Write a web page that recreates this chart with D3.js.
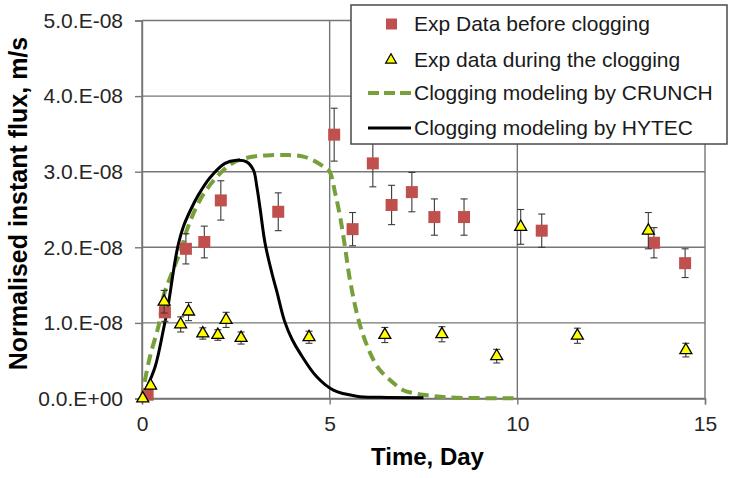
<!DOCTYPE html>
<html>
<head>
<meta charset="utf-8">
<script src="https://cdn.jsdelivr.net/npm/d3@7"></script>
<style>
  html, body { margin: 0; padding: 0; background: #ffffff; }
  svg { display: block; font-family: "Liberation Sans", Arial, sans-serif; }
</style>
</head>
<body>
<svg id="chart" width="732" height="478"></svg>
<script>
// ---------------- data ----------------
const xTicks = [0, 5, 10, 15];
const xTickLabels = ["0", "5", "10", "15"];
const yTicks = [0, 1e-8, 2e-8, 3e-8, 4e-8, 5e-8];
const yTickLabels = ["0.0.E+00", "1.0.E-08", "2.0.E-08", "3.0.E-08", "4.0.E-08", "5.0.E-08"];

const seriesNames = [
  "Exp Data before clogging",
  "Exp data during the clogging",
  "Clogging modeling by CRUNCH",
  "Clogging modeling by HYTEC"
];

// Exp Data before clogging (red squares)
const beforeDay  = [0.15, 0.61, 1.17, 1.66, 2.10, 3.63, 5.12, 5.61, 6.15, 6.65, 7.19, 7.79, 8.58, 10.65, 13.64, 14.47];
const beforeFlux = [0.05e-8, 1.14e-8, 1.98e-8, 2.07e-8, 2.62e-8, 2.47e-8, 3.49e-8, 2.24e-8, 3.11e-8, 2.56e-8, 2.73e-8, 2.40e-8, 2.40e-8, 2.22e-8, 2.06e-8, 1.79e-8];
const beforeErr  = [0.02e-8, 0.12e-8, 0.20e-8, 0.21e-8, 0.26e-8, 0.25e-8, 0.35e-8, 0.22e-8, 0.31e-8, 0.26e-8, 0.26e-8, 0.24e-8, 0.24e-8, 0.22e-8, 0.20e-8, 0.19e-8];

// Exp data during the clogging (yellow triangles)
const duringDay  = [0.02, 0.23, 0.59, 1.03, 1.24, 1.62, 2.02, 2.24, 2.64, 4.45, 6.47, 7.99, 9.45, 10.09, 11.60, 13.49, 14.49];
const duringFlux = [0.0, 0.17e-8, 1.28e-8, 0.98e-8, 1.15e-8, 0.86e-8, 0.84e-8, 1.04e-8, 0.80e-8, 0.81e-8, 0.84e-8, 0.85e-8, 0.56e-8, 2.27e-8, 0.83e-8, 2.22e-8, 0.64e-8];
const duringErr  = [0.02e-8, 0.03e-8, 0.15e-8, 0.10e-8, 0.12e-8, 0.075e-8, 0.07e-8, 0.10e-8, 0.08e-8, 0.08e-8, 0.10e-8, 0.10e-8, 0.09e-8, 0.23e-8, 0.10e-8, 0.24e-8, 0.09e-8];

// Clogging modeling by CRUNCH (green dashed)
const crunchDay  = [0, 0.03, 0.21, 0.46, 0.57, 0.75, 1.06, 1.19, 1.55, 1.99, 2.43, 2.97, 3.50, 3.90, 4.30, 4.56, 4.83, 5.00, 5.14, 5.28, 5.41, 5.54, 5.79, 6.08, 6.30, 6.55, 6.96, 7.23, 7.50, 8.12, 9.00, 10.0];
const crunchFlux = [0, 0.11e-8, 0.55e-8, 1.0e-8, 1.35e-8, 1.60e-8, 2.0e-8, 2.22e-8, 2.63e-8, 2.93e-8, 3.12e-8, 3.20e-8, 3.22e-8, 3.22e-8, 3.20e-8, 3.15e-8, 3.07e-8, 3.0e-8, 2.73e-8, 2.40e-8, 2.0e-8, 1.57e-8, 1.0e-8, 0.60e-8, 0.40e-8, 0.27e-8, 0.11e-8, 0.07e-8, 0.05e-8, 0.016e-8, 0.005e-8, 0.002e-8];

// Clogging modeling by HYTEC (black solid)
const hytecDay  = [0, 0.08, 0.35, 0.57, 0.70, 0.83, 0.95, 1.10, 1.30, 1.50, 1.81, 2.21, 2.52, 2.79, 2.97, 3.06, 3.15, 3.28, 3.46, 3.59, 3.80, 4.00, 4.21, 4.65, 5.10, 5.72, 6.34, 7.50];
const hytecFlux = [0, 0.09e-8, 0.42e-8, 0.91e-8, 1.24e-8, 1.66e-8, 2.0e-8, 2.27e-8, 2.50e-8, 2.69e-8, 2.92e-8, 3.11e-8, 3.15e-8, 3.13e-8, 3.02e-8, 2.80e-8, 2.50e-8, 2.05e-8, 1.66e-8, 1.42e-8, 1.02e-8, 0.78e-8, 0.60e-8, 0.29e-8, 0.11e-8, 0.03e-8, 0.015e-8, 0.01e-8];

// ---------------- drawing ----------------
const svg = d3.select("#chart");
const plotLeft = 142, plotRight = 705, plotTop = 20.5, plotBottom = 398.5;

const x = d3.scaleLinear().domain([0, 15]).range([plotLeft, plotRight]);
const y = d3.scaleLinear().domain([0, 5e-8]).range([plotBottom, plotTop]);

const gridColor = "#767676";
const redColor = "#C0504D";
const greenColor = "#77A03B";

// gridlines
const grid = svg.append("g");
grid.selectAll("line.h").data(yTicks).join("line").attr("class", "h")
  .attr("x1", plotLeft).attr("x2", plotRight)
  .attr("y1", d => y(d)).attr("y2", d => y(d))
  .attr("stroke", gridColor).attr("stroke-width", 1.4);
grid.selectAll("line.v").data(xTicks).join("line").attr("class", "v")
  .attr("x1", d => x(d)).attr("x2", d => x(d))
  .attr("y1", plotTop).attr("y2", plotBottom)
  .attr("stroke", gridColor).attr("stroke-width", 1.4);

// axes
const yAxis = d3.axisLeft(y).tickValues(yTicks)
  .tickFormat((d, i) => yTickLabels[i]).tickSize(7).tickPadding(12);
const xAxis = d3.axisBottom(x).tickValues(xTicks)
  .tickFormat((d, i) => xTickLabels[i]).tickSize(6).tickPadding(12);

const gy = svg.append("g").attr("transform", `translate(${plotLeft},0)`).call(yAxis);
const gx = svg.append("g").attr("transform", `translate(0,${plotBottom})`).call(xAxis);
[gx, gy].forEach(g => {
  g.select(".domain").attr("stroke", gridColor).attr("stroke-width", 1.4);
  g.selectAll(".tick line").attr("stroke", gridColor).attr("stroke-width", 1.4);
  g.selectAll(".tick text").attr("fill", "#262626")
    .attr("font-size", 21).attr("font-family", "Liberation Sans, Arial, sans-serif");
});

// axis titles
svg.append("text")
  .attr("x", (plotLeft + plotRight) / 2 + 4).attr("y", 465)
  .attr("text-anchor", "middle")
  .attr("font-size", 24).attr("font-weight", "bold").attr("fill", "#000")
  .text("Time, Day");
svg.append("text")
  .attr("transform", `translate(27,${(plotTop + plotBottom) / 2 - 6}) rotate(-90)`)
  .attr("text-anchor", "middle")
  .attr("font-size", 25).attr("font-weight", "bold").attr("fill", "#000")
  .text("Normalised instant flux, m/s");

// curves
const crunchData = crunchDay.map((d, i) => [d, crunchFlux[i]]);
const hytecData = hytecDay.map((d, i) => [d, hytecFlux[i]]);
const line = d3.line().x(d => x(d[0])).y(d => y(d[1])).curve(d3.curveCatmullRom.alpha(0.5));

svg.append("path").datum(crunchData)
  .attr("d", line).attr("fill", "none")
  .attr("stroke", greenColor).attr("stroke-width", 4)
  .attr("stroke-dasharray", "11,6");
svg.append("path").datum(hytecData)
  .attr("d", line).attr("fill", "none")
  .attr("stroke", "#000").attr("stroke-width", 3);

// error bars helper
function errorBars(days, vals, errs) {
  const g = svg.append("g").attr("stroke", "#3a3a3a").attr("stroke-width", 1.1);
  days.forEach((d, i) => {
    const cx = x(d), y1 = y(vals[i] + errs[i]), y2 = y(vals[i] - errs[i]);
    g.append("line").attr("x1", cx).attr("x2", cx).attr("y1", y1).attr("y2", y2);
    g.append("line").attr("x1", cx - 3.5).attr("x2", cx + 3.5).attr("y1", y1).attr("y2", y1);
    g.append("line").attr("x1", cx - 3.5).attr("x2", cx + 3.5).attr("y1", y2).attr("y2", y2);
  });
}

// before clogging: squares
errorBars(beforeDay, beforeFlux, beforeErr);
svg.append("g").selectAll("rect").data(beforeDay).join("rect")
  .attr("x", d => x(d) - 6).attr("y", (d, i) => y(beforeFlux[i]) - 6)
  .attr("width", 12).attr("height", 12)
  .attr("fill", redColor);

// during clogging: triangles
errorBars(duringDay, duringFlux, duringErr);
const tri = d3.symbol().type(d3.symbolTriangle).size(62);
svg.append("g").selectAll("path").data(duringDay).join("path")
  .attr("d", tri)
  .attr("transform", (d, i) => `translate(${x(d)},${y(duringFlux[i])})`)
  .attr("fill", "#FFFF00").attr("stroke", "#000").attr("stroke-width", 1.3);

// legend
const lg = svg.append("g");
lg.append("rect").attr("x", 351).attr("y", 5).attr("width", 376).attr("height", 139)
  .attr("fill", "#fff").attr("stroke", "#4a4a4a").attr("stroke-width", 1.5);
const rowY = [24, 60, 93, 128];
const textX = 414;
lg.append("rect").attr("x", 386).attr("y", rowY[0] - 5.5).attr("width", 11).attr("height", 11)
  .attr("fill", redColor);
lg.append("path").attr("d", d3.symbol().type(d3.symbolTriangle).size(50))
  .attr("transform", `translate(391,${rowY[1]})`)
  .attr("fill", "#FFFF00").attr("stroke", "#000").attr("stroke-width", 1.2);
lg.append("line").attr("x1", 368).attr("x2", 412).attr("y1", rowY[2]).attr("y2", rowY[2])
  .attr("stroke", greenColor).attr("stroke-width", 4).attr("stroke-dasharray", "11,5");
lg.append("line").attr("x1", 368).attr("x2", 411).attr("y1", rowY[3]).attr("y2", rowY[3])
  .attr("stroke", "#000").attr("stroke-width", 3);
lg.selectAll("text").data(seriesNames).join("text")
  .attr("x", textX).attr("y", (d, i) => rowY[i])
  .attr("dy", "0.35em")
  .attr("font-size", 21).attr("fill", "#1a1a1a")
  .text(d => d);
</script>
</body>
</html>
